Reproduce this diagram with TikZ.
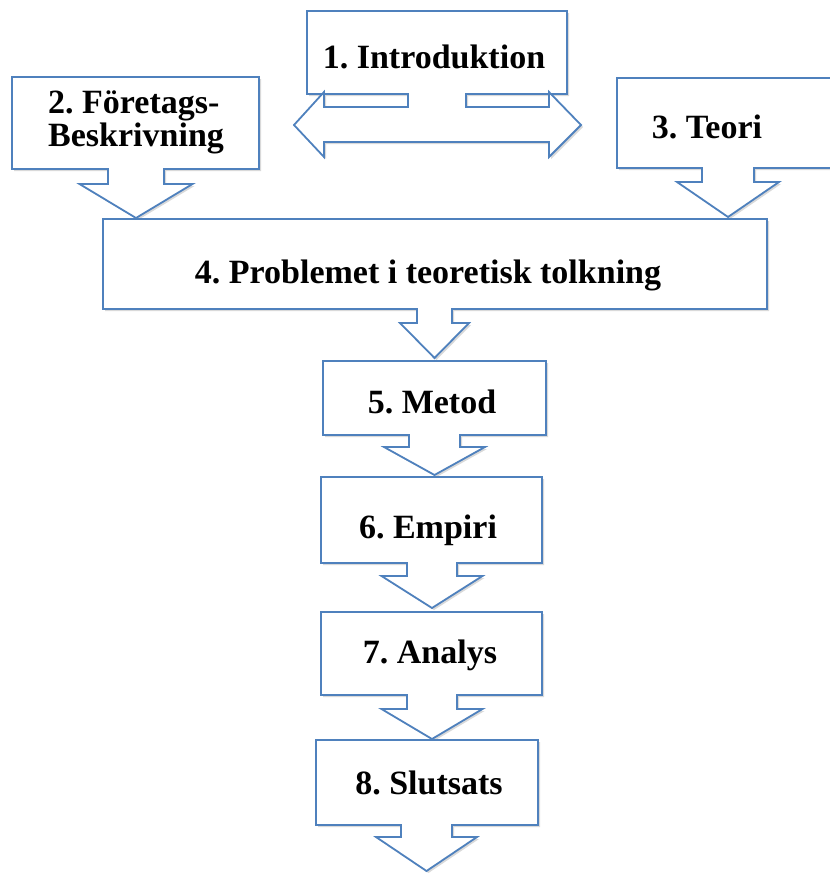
\documentclass[tikz,border=0pt]{standalone}
\usepackage{fontspec}
\setmainfont{Liberation Serif}
\usetikzlibrary{shadows}
\definecolor{calloutBlue}{RGB}{79,129,189}

% box with a down arrow under it: left, top, right, bottom, arrow x, neck half, head half, neck end, tip
\newcommand{\downcallout}[9]{%
  \draw[callout] (#1,#2) -- (#3,#2) -- (#3,#4) -- ({#5+#6},#4) -- ({#5+#6},#8)
    -- ({#5+#7},#8) -- (#5,#9) -- ({#5-#7},#8) -- ({#5-#6},#8) -- ({#5-#6},#4)
    -- (#1,#4) -- cycle;}

\begin{document}
\begin{tikzpicture}[x=1pt, y=-1pt,
  callout/.style={draw=calloutBlue, line width=1.8pt, fill=white, line join=miter,
    drop shadow={shadow xshift=2pt, shadow yshift=-2pt, opacity=0.3}},
  boxtext/.style={font=\fontsize{34}{29}\selectfont\bfseries\frenchspacing, anchor=base, inner sep=0pt},
]
  \useasboundingbox (0,0) rectangle (830,873);

  % 1: box with a left-right arrow
  \draw[callout] (408,94) -- (307,94) -- (307,11) -- (567,11) -- (567,94) -- (466,94)
    -- (466,107) -- (549,107) -- (549,92) -- (581,125) -- (549,157) -- (549,142)
    -- (324,142) -- (324,157) -- (294,125) -- (324,92) -- (324,107) -- (408,107) -- cycle;
  \node[boxtext] (intro) at (434,68) {1. Introduktion};

  \downcallout{12}{77}{259}{169}{136}{28}{56.5}{184}{218}
  \node[boxtext, anchor=base west, align=left] (foretag) at (48,146) {2. Företags-\\Beskrivning};

  \downcallout{617}{78}{838}{168}{728}{26}{51}{182}{217}
  \node[boxtext] (teori) at (707,138) {3. Teori};

  \downcallout{103}{219}{767}{309}{434.5}{17.5}{34.5}{323}{358}
  \node[boxtext] (problem) at (428,283) {4. Problemet i teoretisk tolkning};

  \downcallout{323}{361}{546}{435}{434.5}{25.5}{50.5}{447}{475}
  \node[boxtext] (metod) at (432,413) {5. Metod};

  \downcallout{321}{477}{542}{563}{432}{25}{50.5}{576}{608}
  \node[boxtext] (empiri) at (428,538) {6. Empiri};

  \downcallout{321}{612}{542}{695}{432}{25}{50.5}{709}{739}
  \node[boxtext] (analys) at (430,663) {7. Analys};

  \downcallout{316}{740}{538}{825}{426.5}{25.5}{50.5}{837}{871}
  \node[boxtext] (slutsats) at (429,794) {8. Slutsats};
\end{tikzpicture}
\end{document}
